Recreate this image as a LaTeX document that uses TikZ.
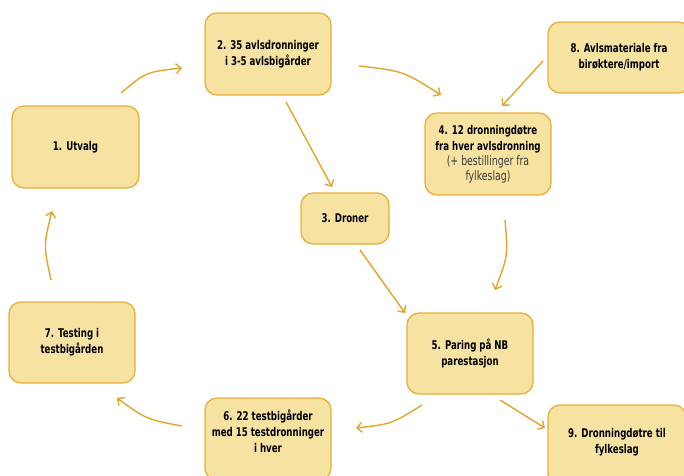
\documentclass[tikz,border=0pt]{standalone}
\usepackage{fontspec}
\setmainfont{DejaVu Sans Condensed}[FakeStretch=0.8]
\usetikzlibrary{arrows.meta,calc}
\definecolor{boxfill}{HTML}{F6E3A2}
\definecolor{boxline}{HTML}{E8AE3A}
\definecolor{arrcol}{HTML}{E0A52A}
\definecolor{subgray}{HTML}{3A3A3A}
\tikzset{
  stepbox/.style={draw=boxline, fill=boxfill, line width=1.3pt, rounded corners=12pt,
    align=center, font=\bfseries\fontsize{12}{16}\selectfont, text=black,
    minimum width=126pt, minimum height=82pt, inner sep=2pt},
  subtxt/.style={},
  arr/.style={draw=arrcol, line width=1.4pt, -{Straight Barb[length=5pt,width=10pt]}}
}
\newcommand{\subline}[1]{{\mdseries\fontsize{13}{15}\selectfont\color{subgray}#1}}
\begin{document}
\begin{tikzpicture}[x=1pt,y=-1pt]
\useasboundingbox (0,0) rectangle (684,475);
\node[stepbox, minimum width=127pt] (n1) at (75.5,147) {1. Utvalg};
\node[stepbox] (n2) at (268,54) {2. 35 avlsdronninger\\i 3-5 avlsbigårder};
\node[stepbox, minimum width=88pt, minimum height=51pt] (n3) at (345,218.5) {3. Droner};
\node[stepbox] (n4) at (488,154) {4. 12 dronningdøtre\\fra hver avlsdronning\\[-1pt]
  \subline{(+ bestillinger fra}\\[-1pt]\subline{fylkeslag)}};
\node[stepbox, minimum height=81pt] (n5) at (470,353.5) {5. Paring på NB\\parestasjon};
\node[stepbox, text depth=16pt] (n6) at (268,439) {6. 22 testbigårder\\med 15 testdronninger\\i hver};
\node[stepbox, minimum height=81pt] (n7) at (72,342.5) {7. Testing i\\testbigården};
\node[stepbox, minimum width=142pt, minimum height=71pt] (n8) at (619,57.5) {8. Avlsmateriale fra\\birøktere/import};
\node[stepbox, minimum width=138pt, text depth=10pt] (n9) at (617,446) {9. Dronningdøtre til\\fylkeslag};
% connector ends
\coordinate (s12) at (121,93);  \coordinate (e12) at (182,68);
\coordinate (s24) at (359,66);  \coordinate (e24) at (441,95);
\coordinate (s84) at (543,61);  \coordinate (e84) at (502,106);
\coordinate (s23) at (286,102); \coordinate (e23) at (332,187);
\coordinate (s45) at (505,220); \coordinate (e45) at (495,290);
\coordinate (s35) at (360,250); \coordinate (e35) at (405,313);
\coordinate (s56) at (422,405); \coordinate (e56) at (356,428);
\coordinate (s59) at (500,400); \coordinate (e59) at (545,428);
\coordinate (s67) at (182,426); \coordinate (e67) at (117,398);
\coordinate (s71) at (51,280);  \coordinate (e71) at (52,211);
\draw[arr] (s12) .. controls (146,72) .. (e12);
\draw[arr] (s24) .. controls (403.3,71) .. (e24);
\draw[arr] (s84) -- (e84);
\draw[arr] (s23) -- (e23);
\draw[arr] (s45) .. controls (508,256) .. (e45);
\draw[arr] (s35) -- (e35);
\draw[arr] (s56) .. controls (391.6,424) .. (e56);
\draw[arr] (s59) -- (e59);
\draw[arr] (s67) .. controls (146.3,419.3) .. (e67);
\draw[arr] (s71) .. controls (43.5,245.5) .. (e71);
\end{tikzpicture}
\end{document}
